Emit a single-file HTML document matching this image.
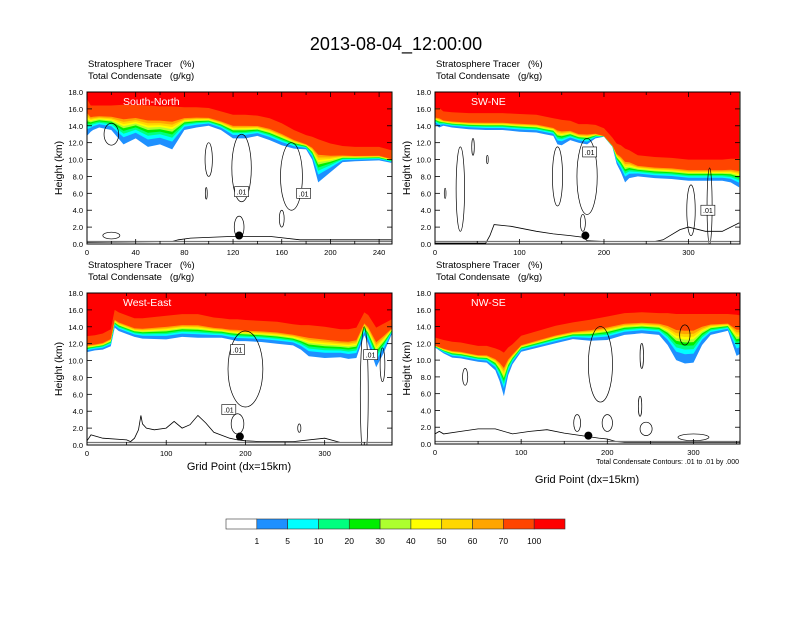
<!DOCTYPE html>
<html><head><meta charset="utf-8"><style>
body{margin:0;background:#fff}
svg text{font-family:"Liberation Sans",Arial,sans-serif}
.pre{white-space:pre}
</style></head><body>
<svg id="c" width="792" height="612" viewBox="0 0 792 612" xmlns="http://www.w3.org/2000/svg">
<text x="396" y="50" font-size="18" text-anchor="middle">2013-08-04_12:00:00</text>
</svg>
<script>
// ---- data ----
const levelColors = ["#1e90ff","#00ffff","#00ff7f","#00ee00","#adff2f","#ffff00","#ffd700","#ffa500","#ff4500"];
const levelLabels = ["1","5","10","20","30","40","50","60","70","100"];
const barColors = ["#ffffff","#1e90ff","#00ffff","#00ff7f","#00ee00","#adff2f","#ffff00","#ffd700","#ffa500","#ff4500","#ff0000"];

const tlX = [0,3,5,10,20,30,40,50,60,70,80,90,100,110,120,130,140,150,160,170,180,185,190,200,210,220,240,250];
const tlBase = [12.8,13.3,13.5,13.8,13.5,11.8,12.5,11.5,11.8,11.2,13.5,13.8,14,13.5,12.5,12.5,12.8,12.3,11.7,11.3,11.2,10,7.3,8.5,9.7,9.8,9.9,9.6];
const tlTop = [16.3,15.5,15.5,15.5,15.5,15.6,15.6,15.5,15.4,15.4,15.3,15.3,15.2,14.8,14.4,14.4,14.3,14,13.4,12.6,12,11.8,11.5,11,10.7,10.6,10.6,10.2];
const trX = [0,5,10,20,40,60,80,100,120,130,140,145,150,160,170,180,190,200,210,215,220,225,230,240,260,280,300,320,340,350,360];
const trBase = [14.2,13.8,14,13.8,13.6,13.5,13.5,13.3,13.2,13,12.8,11.8,11.7,12.3,12,11.8,12.5,12.7,11.5,9.5,8.5,7.3,7.8,8,7.8,7.7,7.5,7.5,7.5,7.3,6.7];
const trTop = [15.2,15.2,14.8,14.7,14.6,14.6,14.6,14.5,14.4,14.2,14,13.9,13.8,13.7,13.3,13.3,13.2,12.8,11.7,11,10.8,10.4,10.2,9.6,9.4,9.3,9.1,9.1,9.1,9.2,9.2];
const blX = [0,10,20,30,35,40,60,70,100,120,140,160,170,180,190,200,220,240,260,270,280,300,320,330,340,350,355,365,375,385];
const blBase = [11,11.2,11.3,11.7,13.9,13.5,12.8,12.6,12.5,12.8,12.7,12.7,12.7,12.5,12.3,12.3,12.2,12,11.8,11.3,10.5,10.3,10.4,10.2,10.3,13,12,9.2,11,13.2];
const blTop = [12,12.1,12.3,12.8,15.1,14.8,14.1,14.1,14.4,14.6,14.6,14.2,14.1,14,14,13.9,13.8,13.7,13.4,13.3,13.3,13.1,12.8,12.8,13,14.8,14.5,13,13.5,14];
const brX = [0,10,20,30,40,50,60,70,75,80,85,90,100,120,140,160,180,200,220,240,260,270,280,290,300,310,320,340,350,355];
const brBase = [11.5,10.8,10.3,10.2,10,9.8,9.7,8.8,7.5,5.7,8.2,9.5,11,11.5,12,12.5,12.3,12.4,13,13.2,13,11.8,10,9.6,9.7,11.8,13,13.5,10.5,10.8];
const brTop = [11.8,11.5,11.3,11.2,11,10.8,10.8,10.5,10.3,10,10.6,11,12,12.6,13.2,13.6,13.9,14.3,14.7,14.8,14.7,14.7,14.6,14.6,14.6,14.6,14.6,14.6,14.5,14.4];

const tlTerrX = [0,70,75,85,120,150,175,250];
const tlTerrH = [0.2,0.3,0.5,0.7,0.9,0.9,0.5,0.5];
const trTerrX = [0,40,60,65,70,90,120,140,160,175,180,200,220,240,260,270,290,300,320,340,360];
const trTerrH = [0.1,0.1,0.1,1,2.3,2.1,1.5,1.2,1,0.8,0.4,0.3,0.3,0.3,0.3,0.5,1.7,2,1.5,1.5,2.5];
const blTerrX = [0,5,20,50,55,60,65,68,70,75,85,100,110,120,130,140,150,160,180,190,200,220,260,300,320,385];
const blTerrH = [0.5,1.2,0.8,0.6,0.4,0.8,1.8,3.5,2.5,2,1.8,2,2.8,2,2.4,3.5,2.6,1.5,0.8,0.6,0.5,0.4,0.4,0.8,0.3,0.3];
const brTerrX = [0,5,10,30,50,70,90,110,130,150,170,190,200,210,220,240,300,355];
const brTerrH = [1.2,1.5,1.2,1.5,1.8,1.8,1.2,1.5,1.7,1.3,1,0.7,0.6,0.3,0.2,0.2,0.2,0.2];

const tlCont = [[20,13,6,1.3],[100,10,3,2],[127,9,8,4],[168,8,9,4],[98,6,0.8,0.7],[160,3,2,1],[125,2,4,1.3],[20,1,7,0.4]];
const trCont = [[30,6.5,5,5],[45,11.5,1.5,1],[145,8,6,3.5],[180,8,12,4.5],[303,4,5,3],[325,4.5,3,4.5],[175,2.5,3,1],[12,6,1,0.6],[62,10,1,0.5]];
const blCont = [[200,9,22,4.5],[350,6,5,8],[190,2.5,8,1.2],[268,2,2,0.5],[373,9.5,3,2]];
const brCont = [[192,9.5,14,4.5],[290,13,6,1.2],[35,8,3,1],[240,10.5,2,1.5],[245,1.8,7,0.8],[300,0.8,18,0.4],[200,2.5,6,1],[165,2.5,4,1],[238,4.5,2,1.2]];

const tlLab = [[127,6.2],[178,6.0]];
const trLab = [[183,10.9],[323,4.0]];
const blLab = [[190,11.3],[179,4.2],[358,10.7]];
const brLab = [];

const tlDot = [125,1.0], trDot = [178,1.0], blDot = [193,1.0], brDot = [178,1.0];
const tlTicks = [0,40,80,120,160,200,240], trTicks = [0,100,200,300], blTicks = [0,100,200,300], brTicks = [0,100,200,300];

// ---- drawing ----
const svg = document.getElementById('c');
const NS = "http://www.w3.org/2000/svg";
function mk(tag, attrs, parent){const e=document.createElementNS(NS,tag);for(const k in attrs)e.setAttribute(k,attrs[k]);(parent||svg).appendChild(e);return e;}

function panel(p){
  const {x0,y0,w,h,xmax,label,X,B,T,terrX,terrH,cont,labs,dot,ticks,minor,key}=p;
  const g=mk('g',{});
  
  
  const sx=v=>x0+v/xmax*w, sy=v=>y0+h-v/18*h;
  let t=mk('text',{x:x0+1,y:y0-25,'font-size':9.5,'class':'pre'},g);t.textContent='Stratosphere Tracer   (%)';
  
  t=mk('text',{x:x0+1,y:y0-13,'font-size':9.5,'class':'pre'},g);t.textContent='Total Condensate   (g/kg)';
  
  const clipId='clip'+key;
  const cp=mk('clipPath',{id:clipId},g);mk('rect',{x:x0,y:y0,width:w,height:h},cp);
  const pg=mk('g',{'clip-path':'url(#'+clipId+')'},g);
  const fracs=[0,0.22,0.33,0.42,0.5,0.57,0.63,0.7,0.78];
  function poly(lvlFrac){
    let d='M'+sx(X[0])+','+y0;
    for(let i=0;i<X.length;i++){const v=B[i]+(T[i]-B[i])*lvlFrac;d+=' L'+sx(X[i]).toFixed(1)+','+sy(v).toFixed(1);}
    d+=' L'+sx(X[X.length-1])+','+y0+' Z';return d;
  }
  levelColors.forEach((c,k)=>{
    const e=mk('path',{d:poly(fracs[k]),fill:c},pg);
    
    
  });
  let d='M'+sx(X[0])+','+y0;
  for(let i=0;i<X.length;i++){d+=' L'+sx(X[i]).toFixed(1)+','+sy(T[i]+0.9).toFixed(1);}
  d+=' L'+sx(X[X.length-1])+','+y0+' Z';
  const red=mk('path',{d:d,fill:'#ff0000'},pg);
  
  
  cont.forEach((c)=>{
    const e=mk('ellipse',{cx:sx(c[0]),cy:sy(c[1]),rx:c[2]/xmax*w,ry:c[3]/18*h,fill:'none',stroke:'#000','stroke-width':0.7},pg);
    
    
  });
  let pts=terrX.map((v,i)=>sx(v).toFixed(1)+','+sy(terrH[i]).toFixed(1)).join(' ');
  const tr=mk('polyline',{points:pts,fill:'none',stroke:'#000','stroke-width':0.8},pg);
  
  
  const gl=mk('line',{x1:x0,x2:x0+w,y1:sy(0.3),y2:sy(0.3),stroke:'#777','stroke-width':1.2},pg);
  
  
  labs.forEach(l=>{
    const r=mk('rect',{x:sx(l[0])-7,y:sy(l[1])-5,width:14,height:10,fill:'#fff',stroke:'#000','stroke-width':0.6},pg);
    
    
    const tt=mk('text',{x:sx(l[0]),y:sy(l[1])+3,'font-size':7,'text-anchor':'middle'},pg);tt.textContent='.01';
    
    
  });
  const dt=mk('circle',{cx:sx(dot[0]),cy:sy(dot[1]),r:4,fill:'#000'},pg);
  
  
  const nl=mk('text',{x:x0+36,y:y0+13,'font-size':10.5,fill:'#fff'},pg);nl.textContent=label;
  
  
  const fr=mk('rect',{x:x0,y:y0,width:w,height:h,fill:'none',stroke:'#000','stroke-width':1},g);
  
  
  for(let v=0;v<=18;v+=2){
    const y=sy(v);
    mk('line',{x1:x0,x2:x0+5,y1:y,y2:y,stroke:'#000','stroke-width':0.8},g);
    mk('line',{x1:x0+w-5,x2:x0+w,y1:y,y2:y,stroke:'#000','stroke-width':0.8},g);
    const tl=mk('text',{x:x0-4,y:y+3,'font-size':7.5,'text-anchor':'end'},g);tl.textContent=v.toFixed(1);
    
    
  }
  const yt=mk('text',{x:0,y:0,'font-size':10.5,'text-anchor':'middle',transform:'translate('+(x0-25)+','+(y0+h/2)+') rotate(-90)'},g);yt.textContent='Height (km)';
  
  
  for(let v=0;v<=xmax;v+=minor){
    const x=sx(v);const major=ticks.includes(v);const L=major?5:3;
    mk('line',{x1:x,x2:x,y1:y0+h,y2:y0+h-L,stroke:'#000','stroke-width':0.8},g);
    mk('line',{x1:x,x2:x,y1:y0,y2:y0+L,stroke:'#000','stroke-width':0.8},g);
  }
  ticks.forEach(v=>{
    const xl=mk('text',{x:sx(v),y:y0+h+11,'font-size':7.5,'text-anchor':'middle'},g);xl.textContent=v;
    
    
  });
}
panel({key:'south-north',x0:87,y0:92,w:305,h:152,xmax:250.6,label:'South-North',X:tlX,B:tlBase,T:tlTop,terrX:tlTerrX,terrH:tlTerrH,cont:tlCont,labs:tlLab,dot:tlDot,ticks:tlTicks,minor:20});
panel({key:'sw-ne',x0:435,y0:92,w:305,h:152,xmax:361,label:'SW-NE',X:trX,B:trBase,T:trTop,terrX:trTerrX,terrH:trTerrH,cont:trCont,labs:trLab,dot:trDot,ticks:trTicks,minor:50});
panel({key:'west-east',x0:87,y0:293,w:305,h:152,xmax:385,label:'West-East',X:blX,B:blBase,T:blTop,terrX:blTerrX,terrH:blTerrH,cont:blCont,labs:blLab,dot:blDot,ticks:blTicks,minor:50});
panel({key:'nw-se',x0:435,y0:293,w:305,h:151,xmax:354,label:'NW-SE',X:brX,B:brBase,T:brTop,terrX:brTerrX,terrH:brTerrH,cont:brCont,labs:brLab,dot:brDot,ticks:brTicks,minor:50});

let e=mk('text',{x:239,y:470,'font-size':11,'text-anchor':'middle'});e.textContent='Grid Point (dx=15km)';

e=mk('text',{x:587,y:483,'font-size':11,'text-anchor':'middle'});e.textContent='Grid Point (dx=15km)';

e=mk('text',{x:739,y:464,'font-size':7,'text-anchor':'end'});e.textContent='Total Condensate Contours: .01 to .01 by .000';


const cb=mk('g',{});


const cbx=226, cbw=339, cby=519, cbh=10, bw=cbw/barColors.length;
barColors.forEach((c,i)=>{
  const r=mk('rect',{x:cbx+i*bw,y:cby,width:bw,height:cbh,fill:c,stroke:'#333','stroke-width':0.6},cb);
  
  
});
levelLabels.forEach((l,i)=>{
  const t=mk('text',{x:cbx+(i+1)*bw,y:544,'font-size':8.5,'text-anchor':'middle'},cb);t.textContent=l;
  
  
});
</script>
</body></html>
